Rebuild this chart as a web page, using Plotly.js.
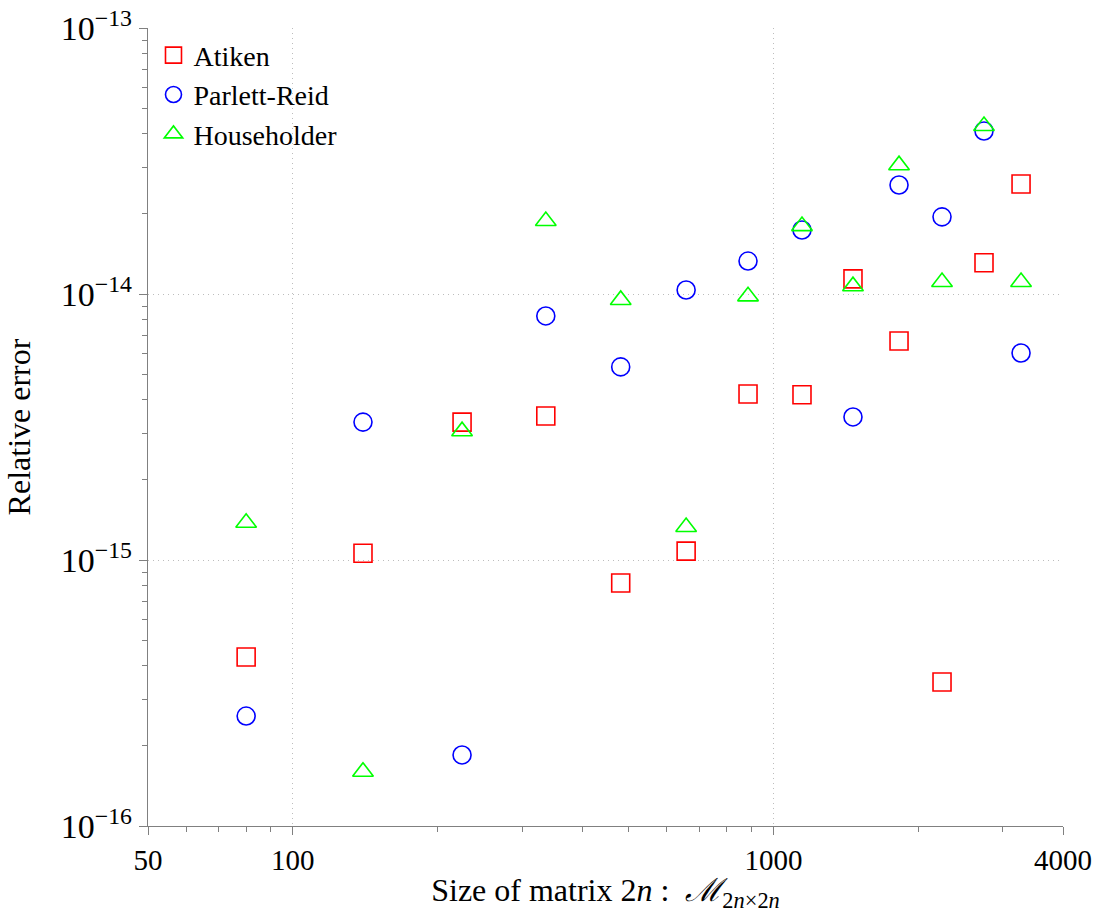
<!DOCTYPE html>
<html>
<head>
<meta charset="utf-8">
<script src="https://cdn.plot.ly/plotly-3.0.1.min.js"></script>
<style>body{margin:0;background:#fff}#chart{width:1098px;height:913px}</style>
</head>
<body>
<div id="chart"></div>
<script>
const sizes = [80, 140, 225, 336, 481, 658, 885, 1146, 1463, 1824, 2241, 2740, 3272];
const atiken = [4.32e-16, 1.06e-15, 3.30e-15, 3.48e-15, 8.2e-16, 1.08e-15, 4.21e-15, 4.18e-15, 1.14e-14, 6.66e-15, 3.48e-16, 1.31e-14, 2.59e-14];
const parlettReid = [2.59e-16, 3.30e-15, 1.85e-16, 8.27e-15, 5.32e-15, 1.035e-14, 1.33e-14, 1.74e-14, 3.45e-15, 2.57e-14, 1.95e-14, 4.10e-14, 6.0e-15];
const householder = [1.38e-15, 1.60e-16, 3.05e-15, 1.88e-14, 9.5e-15, 1.33e-15, 9.8e-15, 1.80e-14, 1.07e-14, 3.05e-14, 1.11e-14, 4.28e-14, 1.11e-14];
const seriesNames = ["Atiken", "Parlett-Reid", "Householder"];
const xTickVals = [50, 100, 1000, 4000];
const xTickText = ["50", "100", "1000", "4000"];
const yTickVals = [1e-16, 1e-15, 1e-14, 1e-13];
const yTickText = ["10<sup>−16</sup>", "10<sup>−15</sup>", "10<sup>−14</sup>", "10<sup>−13</sup>"];

const font = "Liberation Serif, DejaVu Serif, serif";
function mk(y, name, symbol, color) {
  return {
    x: sizes, y: y, name: name, type: "scatter", mode: "markers",
    marker: {symbol: symbol, size: 18, color: color, line: {color: color, width: 1.6}}
  };
}
const data = [
  mk(atiken, seriesNames[0], "square-open", "#ff0000"),
  mk(parlettReid, seriesNames[1], "circle-open", "#0000ff"),
  mk(householder, seriesNames[2], "triangle-up-open", "#00ff00")
];
const gridDash = "1px,4px";
const layout = {
  width: 1098, height: 913,
  margin: {l: 148, r: 35, t: 28, b: 87},
  paper_bgcolor: "#fff", plot_bgcolor: "#fff",
  font: {family: font, size: 28, color: "#000"},
  showlegend: true,
  legend: {x: 0.006, y: 0.997, xanchor: "left", yanchor: "top", bgcolor: "rgba(0,0,0,0)",
           font: {family: font, size: 28}, tracegroupgap: 0, itemwidth: 30},
  xaxis: {
    type: "log", range: [Math.log10(50), Math.log10(4000)],
    tickvals: xTickVals, ticktext: xTickText, ticks: "outside", ticklen: 8, tickcolor: "#808080",
    showline: true, linecolor: "#808080", linewidth: 1.2, mirror: false,
    showgrid: true, gridcolor: "#bdbdbd", griddash: gridDash, gridwidth: 1,
    minor: {ticks: "outside", ticklen: 5, tickcolor: "#808080", showgrid: false,
            tickvals: [60,70,80,90,200,300,400,500,600,700,800,900,2000,3000]},
    zeroline: false, tickfont: {family: font, size: 29},
    title: {text: "Size of matrix 2<i>n</i> :  <i>ℳ</i><sub>2<i>n</i>×2<i>n</i></sub>", font: {family: font, size: 32}, standoff: 4}
  },
  yaxis: {
    type: "log", range: [-16, -13],
    tickvals: yTickVals, ticktext: yTickText, ticks: "outside", ticklen: 8, tickcolor: "#808080",
    showline: true, linecolor: "#808080", linewidth: 1.2, mirror: false,
    showgrid: true, gridcolor: "#bdbdbd", griddash: gridDash, gridwidth: 1,
    minor: {ticks: "outside", ticklen: 5, tickcolor: "#808080", showgrid: false,
            tickvals: [2e-16,3e-16,4e-16,5e-16,6e-16,7e-16,8e-16,9e-16,2e-15,3e-15,4e-15,5e-15,6e-15,7e-15,8e-15,9e-15,2e-14,3e-14,4e-14,5e-14,6e-14,7e-14,8e-14,9e-14]},
    zeroline: false, tickfont: {family: font, size: 34},
    title: {text: "Relative error", font: {family: font, size: 32}, standoff: 20}
  }
};
Plotly.newPlot("chart", data, layout, {displayModeBar: false, staticPlot: true});
</script>
</body>
</html>
